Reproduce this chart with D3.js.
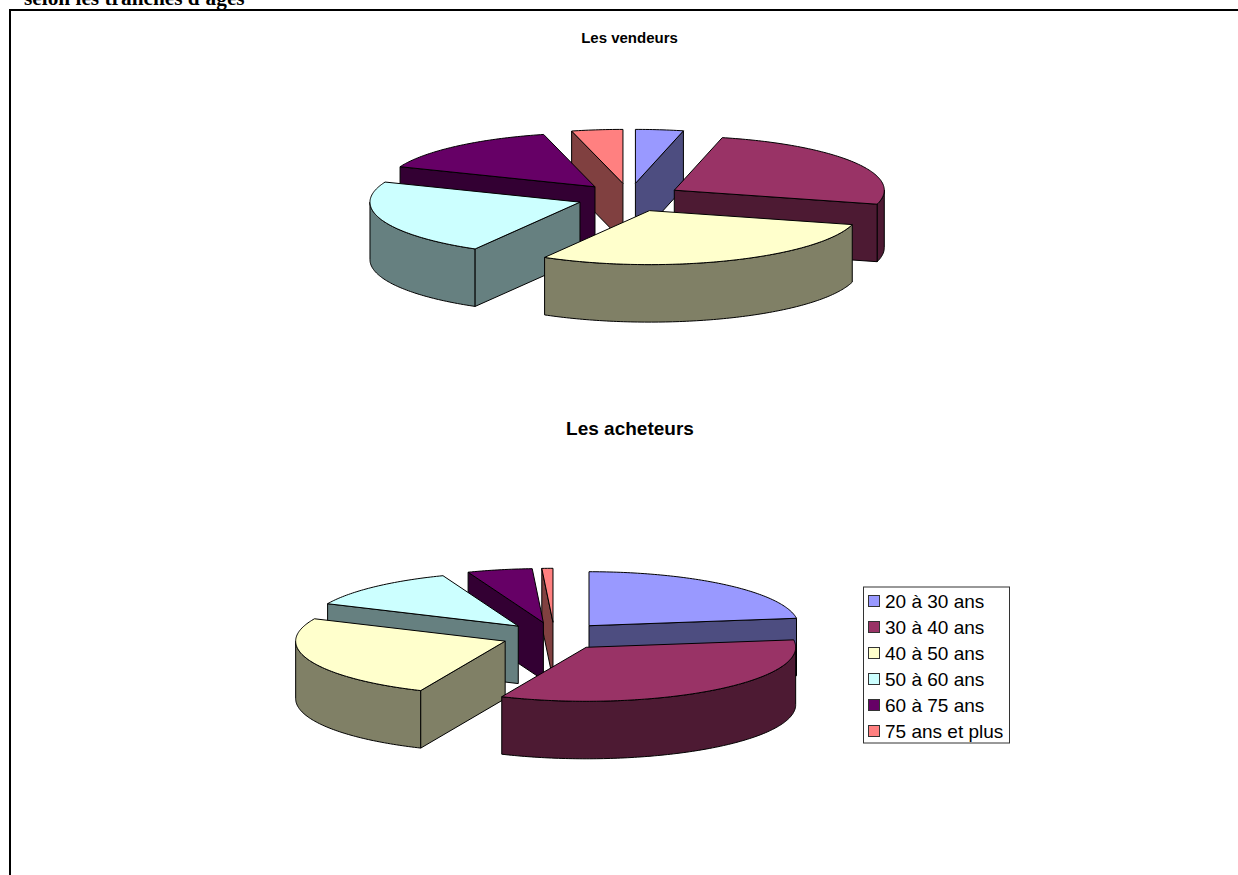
<!DOCTYPE html>
<html lang="fr"><head><meta charset="utf-8">
<script src="https://cdn.jsdelivr.net/npm/d3@7"></script>
<style>html,body{margin:0;padding:0;background:#fff;overflow:hidden}svg{display:block}</style>
</head><body><svg id="c" width="1238" height="875"></svg>
<script>
const categories = ["20 à 30 ans","30 à 40 ans","40 à 50 ans","50 à 60 ans","60 à 75 ans","75 ans et plus"];
const vendeurs = [3.67,25.5,29.15,22.75,15.0,3.93];
const acheteurs = [22.8,33.8,25.2,12.35,5.0,0.85];
const topColors = ["#9999FF","#993366","#FFFFCC","#CCFFFF","#660066","#FF8080"];
const sideColors = ["#4D4D80","#4D1A33","#808066","#668080","#330033","#804040"];
const headerText = "selon les tranches d'ages";
const chartTitles = ["Les vendeurs","Les acheteurs"];

const svg = d3.select("#c");
const color = d3.scaleOrdinal(categories, topColors);
const shade = d3.scaleOrdinal(categories, sideColors);
const pie = d3.pie().sort(null).value(d => d.value);
const line = d3.line();

svg.append("text").attr("x",24).attr("y",5)
  .attr("font-family","'Liberation Serif',serif").attr("font-weight","bold").attr("font-size",21.3)
  .attr("fill","#000").text(headerText);
svg.append("path").attr("d","M1238,10H10V875").attr("fill","none").attr("stroke","#000").attr("stroke-width",2);

function pie3d(values, o){
  const g = svg.append("g");
  const px = d3.scaleLinear().domain([-1,1]).range([o.cx-o.rx,o.cx+o.rx]);
  const py = d3.scaleLinear().domain([-1,1]).range([o.cy+o.ry,o.cy-o.ry]);
  const slices = pie(categories.map((c,i)=>({cat:c,value:values[i]}))).map(s=>{
    const mid=(s.startAngle+s.endAngle)/2;
    const tx=o.ex*Math.sin(mid), ty=o.ey*Math.cos(mid);
    const tip=[o.cx+tx,o.cy-ty];
    const n=Math.max(2,Math.ceil((s.endAngle-s.startAngle)*60));
    const rim=d3.range(n+1).map(k=>{
      const a=s.startAngle+(s.endAngle-s.startAngle)*k/n;
      return [px(Math.sin(a))+tx, py(Math.cos(a))-ty];
    });
    return {...s,tip,rim};
  });
  slices.sort((a,b)=>a.tip[1]-b.tip[1]);
  const drop=p=>[p[0],p[1]+o.depth];
  slices.forEach(s=>{
    const sg=g.append("g");
    const c=s.data.cat;
    const wall=(pts)=>sg.append("path")
      .attr("d",line(pts.concat(pts.slice().reverse().map(drop)))+"Z")
      .attr("fill",shade(c)).attr("stroke","#000").attr("stroke-width",1).attr("stroke-linejoin","round");
    const first=s.rim[0], last=s.rim[s.rim.length-1];
    // outer rim: only the parts heading west on screen face the viewer
    let run=[];
    const runs=[];
    for(let i=0;i<s.rim.length-1;i++){
      if(s.rim[i+1][0]<s.rim[i][0]){ if(!run.length) run.push(s.rim[i]); run.push(s.rim[i+1]); }
      else if(run.length){ runs.push(run); run=[]; }
    }
    if(run.length) runs.push(run);
    runs.forEach(wall);
    if(first[0]<s.tip[0]) wall([s.tip,first]);
    if(s.tip[0]<last[0]) wall([last,s.tip]);
    sg.append("path").attr("d",line([s.tip,...s.rim])+"Z")
      .attr("fill",color(c)).attr("stroke","#000").attr("stroke-width",1).attr("stroke-linejoin","round");
  });
}

pie3d(vendeurs,{cx:629.4,cy:197.5,rx:210,ry:54,ex:52.3,ey:14.2,depth:57.5});
pie3d(acheteurs,{cx:554.4,cy:636.2,rx:209.5,ry:54,ex:52.7,ey:13.9,depth:57.5});

const font="'Liberation Sans',Arial,sans-serif";
svg.append("text").attr("x",629.5).attr("y",43).attr("text-anchor","middle")
  .attr("font-family",font).attr("font-weight","bold").attr("font-size",15).text(chartTitles[0]);
svg.append("text").attr("x",630).attr("y",435).attr("text-anchor","middle")
  .attr("font-family",font).attr("font-weight","bold").attr("font-size",19).text(chartTitles[1]);

const legend=svg.append("g");
legend.append("rect").attr("x",863.5).attr("y",587).attr("width",146).attr("height",156)
  .attr("fill","#fff").attr("stroke","#333").attr("stroke-width",1);
const rowY=d3.scalePoint().domain(categories).range([601,731]);
const rows=legend.selectAll("g").data(categories).join("g").attr("transform",d=>`translate(0,${rowY(d)})`);
rows.append("rect").attr("x",868.5).attr("y",-5.5).attr("width",11).attr("height",11)
  .attr("fill",d=>color(d)).attr("stroke","#333").attr("stroke-width",1);
rows.append("text").attr("x",885).attr("y",6.5).attr("font-family",font).attr("font-size",19).attr("fill","#000").text(d=>d);
</script></body></html>
